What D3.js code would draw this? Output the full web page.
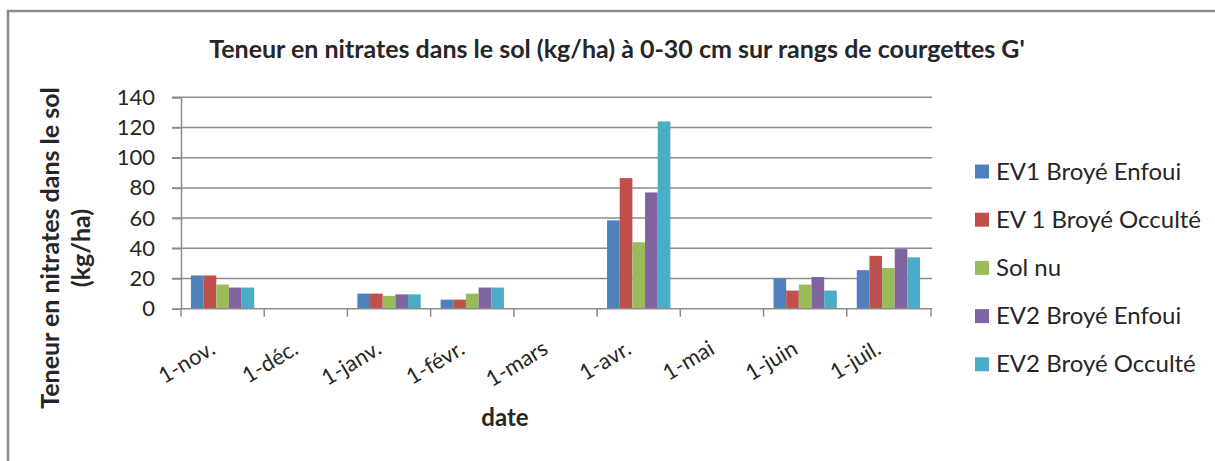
<!DOCTYPE html>
<html>
<head>
<meta charset="utf-8">
<script src="https://cdn.jsdelivr.net/npm/d3@7"></script>
<style>
  body { margin: 0; background: #fff; }
  text { font-family: Lato, "Open Sans", sans-serif; fill: #262626; }
</style>
</head>
<body>
<svg id="chart" width="1215" height="461"></svg>
<script>
// data
var months = ["1-nov.", "1-déc.", "1-janv.", "1-févr.", "1-mars", "1-avr.", "1-mai", "1-juin", "1-juil."];
var seriesNames = ["EV1 Broyé Enfoui", "EV 1 Broyé Occulté", "Sol nu", "EV2 Broyé Enfoui", "EV2 Broyé Occulté"];
var ev1Enfoui  = [22, null, 10,  6,  null, 58.5, null, 20, 25.5];
var ev1Occulte = [22, null, 10,  6,  null, 86.5, null, 12, 35];
var solNu      = [16, null, 8.5, 10, null, 44,   null, 16, 27];
var ev2Enfoui  = [14, null, 9.5, 14, null, 77,   null, 21, 39.5];
var ev2Occulte = [14, null, 9.5, 14, null, 124,  null, 12, 34];
var yTicks = [0, 20, 40, 60, 80, 100, 120, 140];
var colors = ["#4F81BD", "#C0504D", "#9BBB59", "#8064A2", "#4BACC6"];

var allSeries = [ev1Enfoui, ev1Occulte, solNu, ev2Enfoui, ev2Occulte];

var svg = d3.select("#chart");
var plot = {left: 181, right: 930, top: 97.3, bottom: 308.7};

// frame
svg.append("path")
  .attr("d", "M8,461 L8,11 L1215,11")
  .attr("fill", "none")
  .attr("stroke", "#8c8c8c")
  .attr("stroke-width", 2.5);

var x0 = d3.scaleBand().domain(months).range([plot.left, plot.right]).paddingInner(0).paddingOuter(0);
var x1 = d3.scaleBand().domain(d3.range(seriesNames.length)).range([0, x0.bandwidth()]).paddingInner(0).paddingOuter(0.786);
var y = d3.scaleLinear().domain([0, 140]).range([plot.bottom, plot.top]);

// gridlines
svg.append("g").selectAll("line")
  .data(yTicks.slice(1))
  .join("line")
  .attr("x1", plot.left - 9).attr("x2", plot.right + 2)
  .attr("y1", d => y(d)).attr("y2", d => y(d))
  .attr("stroke", "#8c8c8c").attr("stroke-width", 1.5);

// y axis
var yAxis = svg.append("g")
  .attr("transform", `translate(${plot.left},0)`)
  .call(d3.axisLeft(y).tickValues(yTicks).tickSize(9).tickPadding(17));
yAxis.select(".domain").attr("stroke", "#8c8c8c").attr("stroke-width", 1.5);
yAxis.selectAll(".tick line").attr("stroke", "#8c8c8c").attr("stroke-width", 1.5);
yAxis.selectAll(".tick text").style("font-size", "22px").style("font-family", "Lato, sans-serif").attr("fill", "#262626");

// bars
var groups = svg.append("g").selectAll("g")
  .data(months)
  .join("g")
  .attr("transform", d => `translate(${x0(d)},0)`);

groups.selectAll("rect")
  .data((m, i) => allSeries.map((s, k) => ({k: k, v: s[i]})).filter(d => d.v != null))
  .join("rect")
  .attr("x", d => x1(d.k))
  .attr("width", x1.bandwidth())
  .attr("y", d => y(d.v))
  .attr("height", d => y(0) - y(d.v))
  .attr("fill", d => colors[d.k]);

// x axis, ticks at band boundaries
var xAxisG = svg.append("g").attr("transform", `translate(0,${plot.bottom})`);
xAxisG.append("line")
  .attr("x1", plot.left).attr("x2", plot.right + 2)
  .attr("stroke", "#8c8c8c").attr("stroke-width", 1.5);
xAxisG.selectAll(".bound")
  .data(months.map(m => x0(m)).concat([plot.right + 1]))
  .join("line")
  .attr("class", "bound")
  .attr("x1", d => d).attr("x2", d => d)
  .attr("y1", 0).attr("y2", 8)
  .attr("stroke", "#8c8c8c").attr("stroke-width", 1.5);
xAxisG.selectAll("text")
  .data(months)
  .join("text")
  .attr("text-anchor", "end")
  .attr("transform", d => `translate(${x0(d) + x0.bandwidth() / 2 - 6},${44}) rotate(-31)`)
  .style("font-size", "22px")
  .text(d => d);

// titles
svg.append("text")
  .attr("x", 617).attr("y", 58)
  .attr("text-anchor", "middle")
  .style("font-size", "25px").style("font-weight", "bold")
  .text("Teneur en nitrates dans le sol (kg/ha) à 0-30 cm sur rangs de courgettes G'");

svg.append("text")
  .attr("x", 505).attr("y", 426)
  .attr("text-anchor", "middle")
  .style("font-size", "24px").style("font-weight", "bold")
  .text("date");

var yTitle = svg.append("text")
  .attr("transform", "translate(59,248) rotate(-90)")
  .attr("text-anchor", "middle")
  .style("font-size", "25px").style("font-weight", "bold");
yTitle.append("tspan").attr("x", 0).attr("dy", 0).text("Teneur en nitrates dans le sol");
yTitle.append("tspan").attr("x", 0).attr("dy", 31).text("(kg/ha)");

// legend
var legend = svg.append("g").selectAll("g")
  .data(seriesNames)
  .join("g")
  .attr("transform", (d, i) => `translate(975,${171.5 + i * 48.2})`);
legend.append("rect")
  .attr("x", 0).attr("y", -7).attr("width", 14).attr("height", 14)
  .attr("fill", (d, i) => colors[i]);
legend.append("text")
  .attr("x", 21).attr("y", 8)
  .style("font-size", "24px")
  .text(d => d);
</script>
</body>
</html>
